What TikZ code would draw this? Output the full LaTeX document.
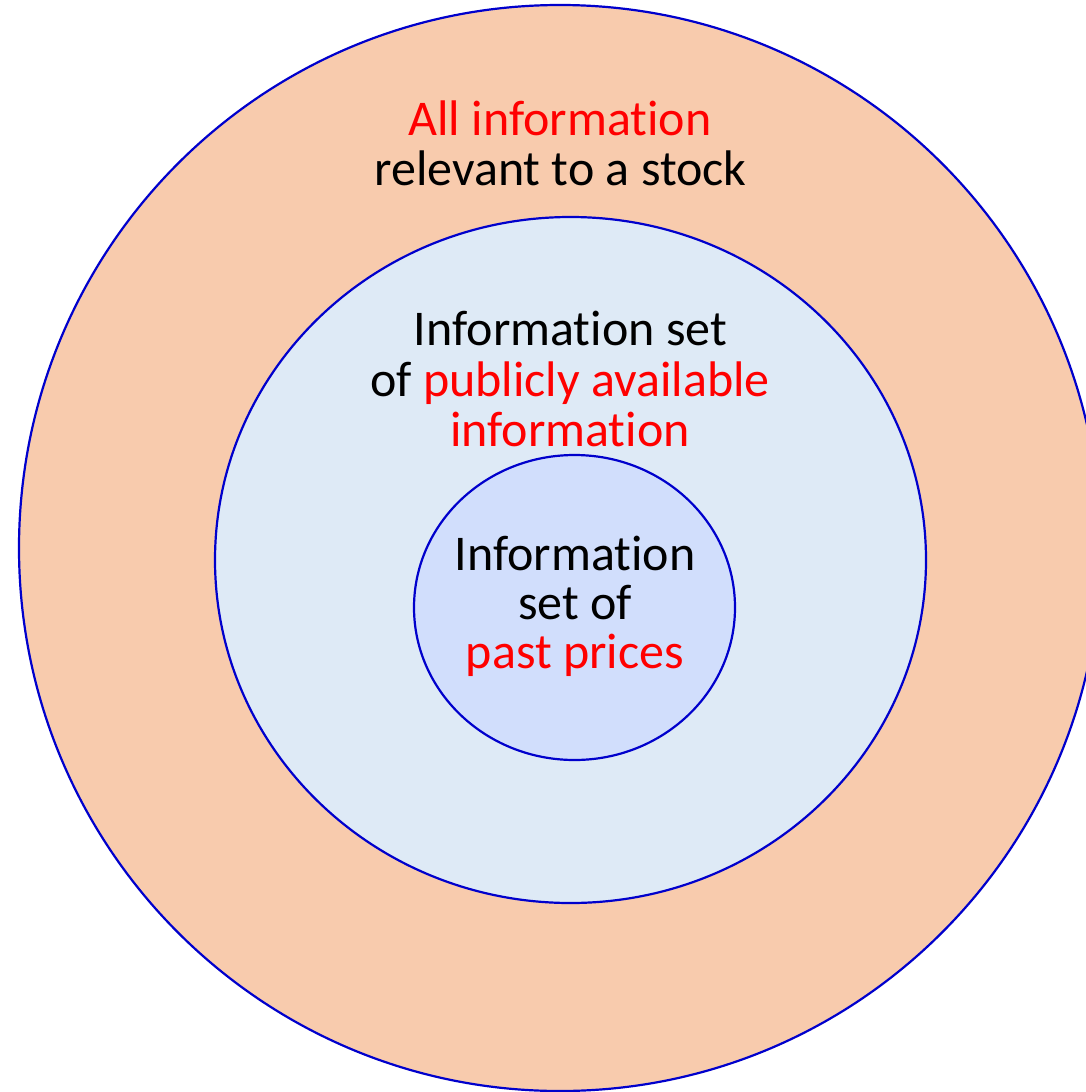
\documentclass[tikz,border=0pt]{standalone}
\usepackage{fontspec}
\setmainfont{Carlito}[Ligatures={NoCommon,NoContextual}]
\usetikzlibrary{shapes.geometric}
\definecolor{outerfill}{HTML}{F8CBAD}
\definecolor{midfill}{HTML}{DEEAF6}
\definecolor{innerfill}{HTML}{D1DEFC}
\definecolor{edgeblue}{HTML}{0000CC}
\definecolor{txtred}{HTML}{FF0000}
\begin{document}
\begin{tikzpicture}[x=1pt,y=-1pt,
  ring/.style={ellipse,draw=edgeblue,line width=2.2pt,inner sep=0pt},
  lbl/.style={anchor=base,inner sep=0pt,font=\fontsize{50}{60}\selectfont}]
\useasboundingbox (0,0) rectangle (1086,1092);
\clip (0,0) rectangle (1086,1092);
\node[ring,fill=outerfill,minimum width=1082pt,minimum height=1086pt] (outer) at (560,548) {};
\node[ring,fill=midfill,minimum width=711pt,minimum height=686pt] (mid) at (570.5,560) {};
\node[ring,fill=innerfill,minimum width=321pt,minimum height=305pt] (inner) at (574.5,607.5) {};
\node[lbl,text=txtred] (o1) at (560,135) {All information};
\node[lbl] (o2) at (560.5,185) {relevant to a stock};
\node[lbl] (m1) at (570.5,345) {Information set};
\node[lbl] (m2) at (570,396) {of \textcolor{txtred}{publicly available}};
\node[lbl,text=txtred] (m3) at (570,446) {information};
\node[lbl] (i1) at (575,570) {Information};
\node[lbl] (i2) at (575,619) {set of};
\node[lbl,text=txtred] (i3) at (575,668) {past prices};
\end{tikzpicture}
\end{document}
